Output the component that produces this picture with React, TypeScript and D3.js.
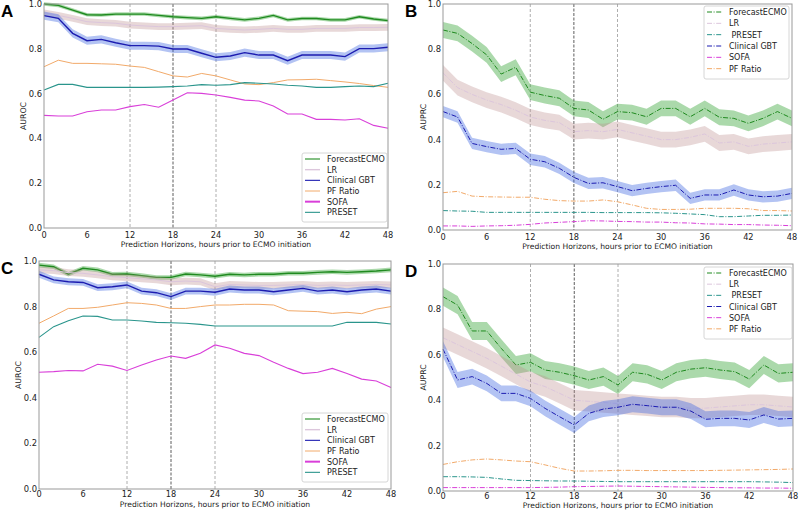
import React, { useEffect, useRef } from 'react';
import * as d3 from 'd3';

const hours = [0, 2, 4, 6, 8, 10, 12, 14, 16, 18, 20, 22, 24, 26, 28, 30, 32, 34, 36, 38, 40, 42, 44, 46, 48];
const xTicks = [0, 6, 12, 18, 24, 30, 36, 42, 48];
const yTicks = [0, 0.2, 0.4, 0.6, 0.8, 1.0];
const markerHours = [12, 18, 24];

// A: AUROC
const aForecast = [1.0, 0.994, 0.973, 0.952, 0.951, 0.955, 0.955, 0.955, 0.949, 0.943, 0.939, 0.936, 0.943, 0.936, 0.929, 0.936, 0.949, 0.929, 0.935, 0.935, 0.929, 0.929, 0.943, 0.933, 0.926];
const aLR = [0.961, 0.949, 0.936, 0.921, 0.917, 0.914, 0.906, 0.902, 0.899, 0.899, 0.901, 0.903, 0.891, 0.887, 0.884, 0.887, 0.891, 0.887, 0.887, 0.891, 0.891, 0.891, 0.895, 0.895, 0.896];
const aGBT = [0.948, 0.936, 0.869, 0.836, 0.842, 0.827, 0.814, 0.814, 0.812, 0.799, 0.799, 0.780, 0.762, 0.768, 0.783, 0.772, 0.772, 0.747, 0.772, 0.772, 0.772, 0.765, 0.801, 0.801, 0.807];
const aPF = [0.720, 0.749, 0.735, 0.735, 0.733, 0.731, 0.723, 0.717, 0.698, 0.679, 0.674, 0.690, 0.679, 0.661, 0.643, 0.640, 0.649, 0.661, 0.662, 0.664, 0.658, 0.652, 0.645, 0.636, 0.628];
const aSofa = [0.503, 0.500, 0.500, 0.519, 0.527, 0.527, 0.542, 0.551, 0.539, 0.571, 0.604, 0.601, 0.594, 0.583, 0.571, 0.567, 0.545, 0.509, 0.509, 0.485, 0.485, 0.482, 0.488, 0.458, 0.445];
const aPreset = [0.616, 0.641, 0.641, 0.628, 0.628, 0.628, 0.628, 0.628, 0.629, 0.631, 0.634, 0.640, 0.637, 0.640, 0.649, 0.646, 0.643, 0.637, 0.634, 0.628, 0.628, 0.631, 0.634, 0.631, 0.646];

// B: AUPRC
const bForecast = [0.885, 0.870, 0.825, 0.775, 0.69, 0.72, 0.61, 0.595, 0.583, 0.538, 0.531, 0.49, 0.524, 0.519, 0.501, 0.538, 0.538, 0.501, 0.538, 0.499, 0.494, 0.472, 0.494, 0.524, 0.494];
const bLR = [0.695, 0.63, 0.60, 0.575, 0.555, 0.53, 0.50, 0.485, 0.475, 0.435, 0.44, 0.435, 0.445, 0.43, 0.415, 0.40, 0.40, 0.41, 0.425, 0.385, 0.39, 0.37, 0.38, 0.385, 0.39];
const bPreset = [0.086, 0.084, 0.083, 0.078, 0.078, 0.078, 0.078, 0.078, 0.078, 0.078, 0.078, 0.077, 0.077, 0.077, 0.077, 0.076, 0.074, 0.071, 0.068, 0.059, 0.059, 0.062, 0.065, 0.065, 0.066];
const bGBT = [0.524, 0.50, 0.383, 0.369, 0.357, 0.361, 0.313, 0.302, 0.273, 0.233, 0.206, 0.209, 0.192, 0.174, 0.184, 0.192, 0.198, 0.140, 0.155, 0.155, 0.177, 0.155, 0.147, 0.150, 0.162];
const bSofa = [0.018, 0.018, 0.016, 0.018, 0.019, 0.021, 0.025, 0.031, 0.034, 0.037, 0.041, 0.040, 0.038, 0.037, 0.035, 0.035, 0.032, 0.031, 0.027, 0.026, 0.024, 0.024, 0.022, 0.021, 0.019];
const bPF = [0.165, 0.171, 0.150, 0.147, 0.146, 0.145, 0.145, 0.136, 0.130, 0.128, 0.128, 0.133, 0.125, 0.111, 0.096, 0.091, 0.091, 0.092, 0.096, 0.096, 0.096, 0.094, 0.086, 0.086, 0.084];

// C: AUROC
const cForecast = [0.982, 0.975, 0.942, 0.968, 0.961, 0.942, 0.943, 0.936, 0.928, 0.928, 0.943, 0.939, 0.933, 0.942, 0.939, 0.942, 0.942, 0.946, 0.946, 0.950, 0.953, 0.950, 0.953, 0.956, 0.961];
const cLR = [0.961, 0.958, 0.949, 0.946, 0.939, 0.931, 0.927, 0.922, 0.917, 0.909, 0.912, 0.909, 0.887, 0.897, 0.895, 0.893, 0.893, 0.895, 0.897, 0.893, 0.895, 0.893, 0.895, 0.897, 0.895];
const cGBT = [0.942, 0.917, 0.909, 0.906, 0.883, 0.887, 0.895, 0.868, 0.861, 0.844, 0.868, 0.868, 0.863, 0.877, 0.873, 0.873, 0.865, 0.873, 0.880, 0.868, 0.873, 0.865, 0.873, 0.877, 0.868];
const cPF = [0.727, 0.759, 0.792, 0.792, 0.797, 0.807, 0.817, 0.814, 0.807, 0.792, 0.792, 0.800, 0.807, 0.807, 0.810, 0.810, 0.807, 0.782, 0.780, 0.778, 0.770, 0.775, 0.769, 0.789, 0.800];
const cSofa = [0.512, 0.515, 0.520, 0.518, 0.547, 0.539, 0.520, 0.544, 0.566, 0.583, 0.573, 0.595, 0.632, 0.617, 0.595, 0.585, 0.556, 0.529, 0.506, 0.512, 0.529, 0.507, 0.482, 0.474, 0.445];
const cPreset = [0.665, 0.712, 0.738, 0.759, 0.757, 0.741, 0.741, 0.737, 0.731, 0.729, 0.727, 0.722, 0.715, 0.715, 0.715, 0.715, 0.715, 0.715, 0.715, 0.715, 0.715, 0.731, 0.731, 0.731, 0.724];

// D: AUPRC
const dForecast = [0.856, 0.819, 0.705, 0.705, 0.628, 0.555, 0.567, 0.533, 0.523, 0.508, 0.489, 0.504, 0.467, 0.523, 0.514, 0.489, 0.523, 0.537, 0.543, 0.533, 0.526, 0.493, 0.555, 0.518, 0.523];
const dLR = [0.675, 0.645, 0.615, 0.585, 0.55, 0.515, 0.48, 0.46, 0.43, 0.40, 0.395, 0.39, 0.385, 0.38, 0.375, 0.37, 0.37, 0.365, 0.365, 0.37, 0.375, 0.38, 0.38, 0.375, 0.37];
const dPreset = [0.063, 0.063, 0.062, 0.060, 0.053, 0.047, 0.046, 0.045, 0.044, 0.044, 0.043, 0.042, 0.041, 0.041, 0.041, 0.041, 0.041, 0.041, 0.041, 0.041, 0.041, 0.041, 0.040, 0.039, 0.037];
const dGBT = [0.625, 0.489, 0.504, 0.474, 0.430, 0.430, 0.408, 0.364, 0.327, 0.291, 0.342, 0.361, 0.369, 0.382, 0.376, 0.369, 0.369, 0.352, 0.316, 0.320, 0.320, 0.313, 0.335, 0.317, 0.320];
const dSofa = [0.015, 0.015, 0.015, 0.015, 0.015, 0.015, 0.015, 0.016, 0.017, 0.019, 0.020, 0.021, 0.022, 0.021, 0.020, 0.019, 0.018, 0.017, 0.016, 0.015, 0.014, 0.014, 0.013, 0.013, 0.012];
const dPF = [0.117, 0.129, 0.137, 0.141, 0.137, 0.132, 0.129, 0.115, 0.100, 0.088, 0.088, 0.089, 0.091, 0.091, 0.090, 0.090, 0.090, 0.090, 0.090, 0.091, 0.092, 0.093, 0.094, 0.095, 0.097];

const FONT = 'DejaVu Sans, sans-serif';
const DASHDOT = '5,1.6,1,1.6';

const styles = {
  'ForecastECMO': { line: '#1f8a1f', fill: '#2ca02c', fillOp: 0.4, w: 1.4, lw: 1.1 },
  'LR': { line: '#dcc6dc', fill: '#bc8f8f', fillOp: 0.35, w: 1, lw: 1.4 },
  'Clinical GBT': { line: '#1c1cb0', fill: '#4169e1', fillOp: 0.4, w: 1.4, lw: 1.1 },
  'PF Ratio': { line: '#f2aa6a', fill: null, fillOp: 0, w: 1, lw: 1 },
  'SOFA': { line: '#d93fd9', fill: null, fillOp: 0, w: 1.1, lw: 2 },
  'PRESET': { line: '#2a958c', fill: null, fillOp: 0, w: 1.1, lw: 1.1 },
};

const panels = [
  {
    letter: 'A', ylabel: 'AUROC', left: 44, right: 388, top: 4, bottom: 228, ylx: 23, tickOff: 9.5, xlOff: 18.5, dash: null,
    series: [['ForecastECMO', aForecast, 0.008], ['LR', aLR, 0.015], ['Clinical GBT', aGBT, 0.018], ['PF Ratio', aPF, 0], ['SOFA', aSofa, 0], ['PRESET', aPreset, 0]],
    legendLabels: ['ForecastECMO', 'LR', 'Clinical GBT', 'PF Ratio', 'SOFA', 'PRESET'],
    legend: { x: 302, y: 153, w: 85, h: 69 },
  },
  {
    letter: 'B', ylabel: 'AUPRC', left: 443, right: 792, top: 4, bottom: 230, ylx: 423, tickOff: 9.5, xlOff: 19, dash: DASHDOT,
    series: [['ForecastECMO', bForecast, 0.035], ['LR', bLR, 0.035], ['PRESET', bPreset, 0], ['Clinical GBT', bGBT, 0.025], ['SOFA', bSofa, 0], ['PF Ratio', bPF, 0]],
    legendLabels: ['ForecastECMO', 'LR', ' PRESET', 'Clinical GBT', 'SOFA', 'PF Ratio'],
    legend: { x: 704, y: 6, w: 85, h: 73 },
  },
  {
    letter: 'C', ylabel: 'AUROC', left: 39, right: 391, top: 261, bottom: 489, ylx: 18, tickOff: 8, xlOff: 17.5, dash: null,
    series: [['ForecastECMO', cForecast, 0.01], ['LR', cLR, 0.015], ['Clinical GBT', cGBT, 0.015], ['PF Ratio', cPF, 0], ['SOFA', cSofa, 0], ['PRESET', cPreset, 0]],
    legendLabels: ['ForecastECMO', 'LR', 'Clinical GBT', 'PF Ratio', 'SOFA', 'PRESET'],
    legend: { x: 302, y: 413, w: 86, h: 69 },
  },
  {
    letter: 'D', ylabel: 'AUPRC', left: 443, right: 793, top: 264, bottom: 491, ylx: 423, tickOff: 7.5, xlOff: 16.5, dash: DASHDOT,
    series: [['ForecastECMO', dForecast, 0.04], ['LR', dLR, 0.045], ['PRESET', dPreset, 0], ['Clinical GBT', dGBT, 0.035], ['SOFA', dSofa, 0], ['PF Ratio', dPF, 0]],
    legendLabels: ['ForecastECMO', 'LR', ' PRESET', 'Clinical GBT', 'SOFA', 'PF Ratio'],
    legend: { x: 704, y: 267, w: 88, h: 72 },
  },
];

function drawPanel(svg, p) {
  const x = d3.scaleLinear().domain([0, 48]).range([p.left, p.right]);
  const y = d3.scaleLinear().domain([0, 1]).range([p.bottom, p.top]);
  const g = svg.append('g').attr('font-family', FONT);

  // marker lines
  markerHours.forEach((h) => {
    g.append('line')
      .attr('x1', x(h)).attr('x2', x(h))
      .attr('y1', p.top).attr('y2', p.bottom)
      .attr('stroke', h === 18 ? '#333' : '#999')
      .attr('stroke-width', 0.8)
      .attr('stroke-dasharray', h === 18 ? '3,1.5' : '3,2');
  });

  p.series.forEach(([name, vals, band]) => {
    const st = styles[name];
    if (band > 0) {
      const area = d3.area()
        .x((_, i) => x(hours[i]))
        .y0((d) => y(d - band))
        .y1((d) => y(d + band));
      g.append('path').attr('d', area(vals)).attr('fill', st.fill).attr('fill-opacity', st.fillOp);
    }
    const line = d3.line().x((_, i) => x(hours[i])).y((d) => y(d));
    g.append('path')
      .attr('d', line(vals))
      .attr('fill', 'none')
      .attr('stroke', st.line)
      .attr('stroke-width', p.dash ? 1 : st.w)
      .attr('stroke-dasharray', p.dash);
  });

  // frame
  g.append('rect')
    .attr('x', p.left).attr('y', p.top)
    .attr('width', p.right - p.left).attr('height', p.bottom - p.top)
    .attr('fill', 'none').attr('stroke', '#999').attr('stroke-width', 1);

  // axes
  xTicks.forEach((t) => {
    g.append('text').attr('x', x(t)).attr('y', p.bottom + p.tickOff)
      .attr('text-anchor', 'middle').attr('font-size', 8.2).attr('fill', '#222').text(t);
  });
  yTicks.forEach((t) => {
    g.append('text').attr('x', p.left - 2).attr('y', y(t) + 3)
      .attr('text-anchor', 'end').attr('font-size', 8.4).attr('fill', '#222').text(d3.format('.1f')(t));
  });
  g.append('text')
    .attr('x', (p.left + p.right) / 2).attr('y', p.bottom + p.xlOff)
    .attr('text-anchor', 'middle').attr('font-size', 7.6).attr('fill', '#222')
    .text('Prediction Horizons, hours prior to ECMO initiation');
  g.append('text')
    .attr('transform', `translate(${p.ylx},${(p.top + p.bottom) / 2}) rotate(-90)`)
    .attr('text-anchor', 'middle').attr('dy', '0.35em').attr('font-size', 7.8).attr('fill', '#222')
    .text(p.ylabel);
  g.append('text')
    .attr('x', p.left < 100 ? 1 : 405).attr('y', p.top + 13)
    .attr('font-size', 17).attr('font-weight', 'bold').attr('font-family', 'Liberation Sans, Arial, sans-serif')
    .text(p.letter);

  // legend
  const L = p.legend;
  g.append('rect').attr('x', L.x).attr('y', L.y).attr('width', L.w).attr('height', L.h).attr('rx', 2)
    .attr('fill', 'white').attr('fill-opacity', 0.85).attr('stroke', '#ccc').attr('stroke-width', 0.8);
  const order = p.series.map((s) => s[0]);
  const rowH = (L.h - 5) / 6;
  p.legendLabels.forEach((lab, i) => {
    const st = styles[order[i]];
    const cy = L.y + 6 + rowH * i;
    g.append('line').attr('x1', L.x + 3).attr('x2', L.x + 18).attr('y1', cy).attr('y2', cy)
      .attr('stroke', st.line).attr('stroke-width', p.dash ? 1 : st.lw)
      .attr('stroke-dasharray', p.dash);
    g.append('text').attr('x', L.x + 25).attr('y', cy + 3)
      .attr('font-size', 8).attr('fill', '#222').style('white-space', 'pre').text(lab);
  });
}

export default function App() {
  const ref = useRef(null);
  useEffect(() => {
    const svg = d3.select(ref.current);
    svg.selectAll('*').remove();
    panels.forEach((p) => drawPanel(svg, p));
  }, []);
  return (
    <svg ref={ref} width={799} height={510} style={{ position: 'absolute', left: 0, top: 0, background: 'white' }} />
  );
}
